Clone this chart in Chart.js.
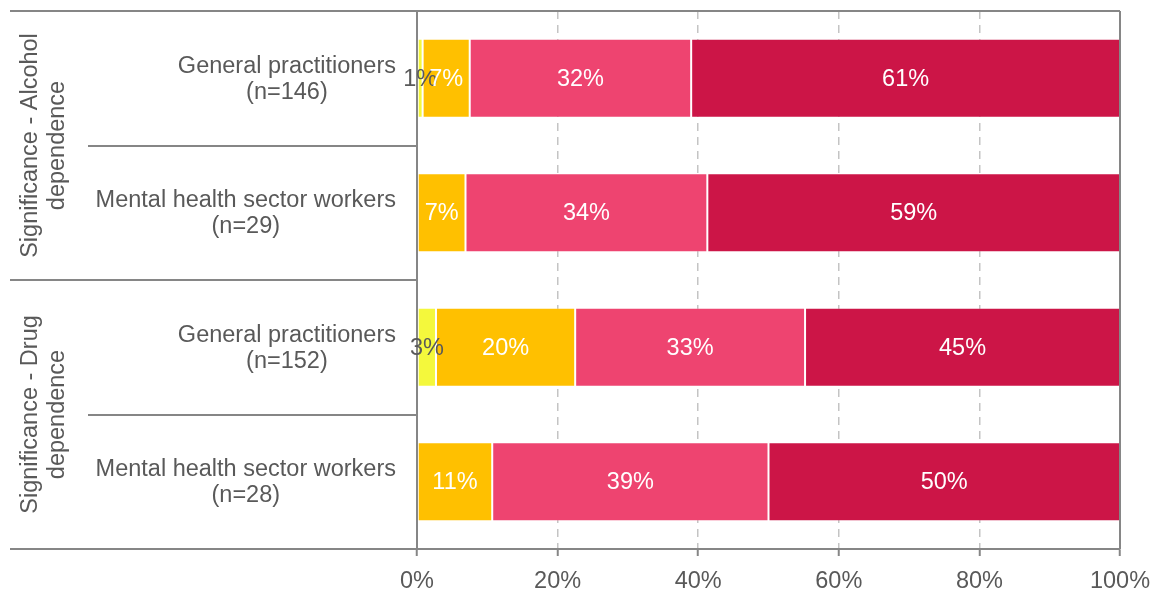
<!DOCTYPE html>
<html lang="en">
<head>
    <meta charset="UTF-8">
    <title>Significance of dependence</title>
    <script src="https://cdn.jsdelivr.net/npm/chart.js"></script>
    <style>
        body { margin: 0; background: #fff; }
        #wrap { width: 1162px; height: 594px; }
    </style>
</head>
<body>
    <div id="wrap"><canvas id="barChart"></canvas></div>

    <script>
        // Rows, top to bottom
        const categories = [
            ['General practitioners', '(n=146)'],
            ['Mental health sector workers', '(n=29)'],
            ['General practitioners', '(n=152)'],
            ['Mental health sector workers', '(n=28)']
        ];
        // Each group covers two rows
        const groups = [
            ['Significance - Alcohol', 'dependence'],
            ['Significance - Drug', 'dependence']
        ];

        // Share of respondents (%) per answer level
        const level1 = [0.8, 0, 2.7, 0];
        const level2 = [6.7, 6.9, 19.8, 10.7];
        const level3 = [31.5, 34.4, 32.7, 39.3];
        const level4 = [61.0, 58.7, 44.8, 50.0];

        const tickLabels = ['0%', '20%', '40%', '60%', '80%', '100%'];

        const FONT = '"Liberation Sans", Arial, sans-serif';
        const SIZE = 23.5;
        const GREY = '#595959';
        const LINE = '#868686';

        // Labels inside the bar segments
        const segmentLabels = {
            id: 'segmentLabels',
            afterDatasetsDraw(chart) {
                const ctx = chart.ctx;
                ctx.save();
                ctx.font = SIZE + 'px ' + FONT;
                ctx.textAlign = 'center';
                ctx.textBaseline = 'middle';
                chart.data.datasets.forEach((ds, i) => {
                    chart.getDatasetMeta(i).data.forEach((bar, j) => {
                        const v = ds.data[j];
                        if (!v) return;
                        ctx.fillStyle = ds.labelColor;
                        ctx.fillText(Math.round(v) + '%', (bar.x + bar.base) / 2, bar.y + 1);
                    });
                });
                ctx.restore();
            }
        };

        // Row labels, group labels, separators and the frame
        const sideLabels = {
            id: 'sideLabels',
            afterDraw(chart) {
                const ctx = chart.ctx;
                const area = chart.chartArea;
                const y = chart.scales.y;
                const rowH = (area.bottom - area.top) / categories.length;
                ctx.save();
                ctx.font = SIZE + 'px ' + FONT;
                ctx.fillStyle = GREY;
                ctx.textBaseline = 'middle';
                ctx.textAlign = 'center';

                categories.forEach((lines, i) => {
                    const cy = y.getPixelForValue(i);
                    const w = Math.max(...lines.map(t => ctx.measureText(t).width));
                    const cx = area.left - 21 - w / 2;
                    ctx.fillText(lines[0], cx, cy - 12);
                    ctx.fillText(lines[1], cx, cy + 14);
                });

                groups.forEach((lines, g) => {
                    const cy = area.top + rowH * (g * 2 + 1);
                    ctx.save();
                    ctx.translate(44, cy);
                    ctx.rotate(-Math.PI / 2);
                    ctx.fillText(lines[0], 0, -13);
                    ctx.fillText(lines[1], 0, 14);
                    ctx.restore();
                });

                ctx.strokeStyle = LINE;
                ctx.lineWidth = 2;
                ctx.beginPath();
                for (let k = 0; k <= categories.length; k++) {
                    const ly = Math.round(area.top + rowH * k);
                    const x0 = (k % 2 === 0) ? 10 : 88;
                    const x1 = (k === 0 || k === categories.length) ? area.right : area.left;
                    ctx.moveTo(x0, ly);
                    ctx.lineTo(x1, ly);
                }
                ctx.moveTo(area.right, area.top);
                ctx.lineTo(area.right, area.bottom);
                ctx.stroke();
                ctx.restore();
            }
        };

        const edge = 'rgba(255,255,255,0.2)';

        new Chart(document.getElementById('barChart'), {
            type: 'bar',
            data: {
                labels: categories.map(c => c.join(' ')),
                datasets: [
                    { label: 'Level 1', data: level1, backgroundColor: '#f4f83c', labelColor: GREY },
                    { label: 'Level 2', data: level2, backgroundColor: '#ffc000', labelColor: '#ffffff' },
                    { label: 'Level 3', data: level3, backgroundColor: '#ee4470', labelColor: '#ffffff' },
                    { label: 'Level 4', data: level4, backgroundColor: '#cc1547', labelColor: '#ffffff' }
                ].map(d => Object.assign(d, {
                    borderColor: edge,
                    borderWidth: 1,
                    borderSkipped: false,
                    categoryPercentage: 1,
                    barPercentage: 0.587
                }))
            },
            options: {
                indexAxis: 'y',
                responsive: true,
                maintainAspectRatio: false,
                animation: false,
                layout: { padding: { top: 11, right: 42, left: 0, bottom: 0 } },
                plugins: {
                    legend: { display: false },
                    tooltip: { enabled: false }
                },
                scales: {
                    x: {
                        stacked: true,
                        min: 0,
                        max: 100,
                        ticks: {
                            stepSize: 20,
                            color: GREY,
                            font: { size: SIZE, family: FONT },
                            padding: 11,
                            maxRotation: 0,
                            callback: (v, i) => tickLabels[i]
                        },
                        grid: {
                            color: '#c4c4c4',
                            lineWidth: 1.5,
                            tickColor: LINE,
                            tickLength: 7,
                            tickWidth: 2,
                            tickBorderDash: []
                        },
                        border: { color: LINE, width: 2, dash: [8, 6] },
                        afterFit: s => { s.height = 45; }
                    },
                    y: {
                        stacked: true,
                        ticks: { display: false },
                        grid: { display: false },
                        border: { color: LINE, width: 2 },
                        afterFit: s => { s.width = 417; }
                    }
                }
            },
            plugins: [segmentLabels, sideLabels]
        });
    </script>
</body>
</html>
